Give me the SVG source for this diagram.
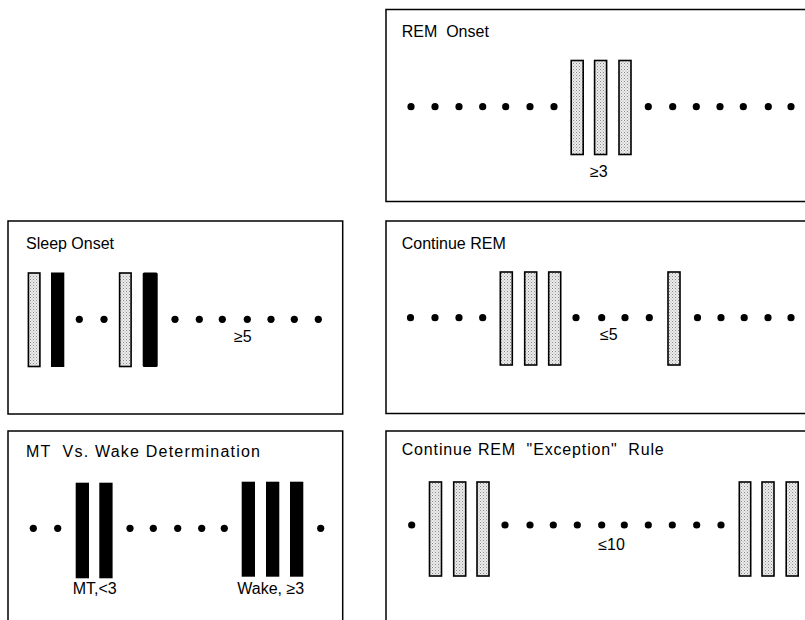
<svg xmlns="http://www.w3.org/2000/svg" width="805" height="620" viewBox="0 0 805 620">
<style>
.box{fill:none;stroke:#000;stroke-width:1.5}
.st{fill:url(#stip);stroke:#000;stroke-width:1.6}
.bk{fill:#000}
.dot{fill:#000}
text{font-family:"Liberation Sans",Arial,sans-serif;fill:#000}
.t{font-size:16px}
.lb{font-size:16px}
</style>
<defs>
<pattern id="stip" width="3" height="3" patternUnits="userSpaceOnUse">
<rect width="3" height="3" fill="#ececec"/>
<rect x="0" y="0" width="1" height="1" fill="#8a8a8a"/>
<rect x="1.5" y="1.5" width="1" height="1" fill="#a8a8a8"/>
</pattern>
</defs>
<rect width="805" height="620" fill="#fff"/>

<g id="rem-onset">
<rect class="box" x="386" y="9.5" width="440" height="192"/>
<text class="t" x="401.7" y="36.7" xml:space="preserve">REM  Onset</text>
<g class="dot">
<circle cx="411" cy="106.7" r="3.6"/><circle cx="435" cy="106.7" r="3.6"/><circle cx="459" cy="106.7" r="3.6"/><circle cx="482.7" cy="106.7" r="3.6"/><circle cx="505.7" cy="106.7" r="3.6"/><circle cx="530" cy="106.7" r="3.6"/><circle cx="554" cy="106.7" r="3.6"/>
<circle cx="648.3" cy="106.7" r="3.6"/><circle cx="672.7" cy="106.7" r="3.6"/><circle cx="696.3" cy="106.7" r="3.6"/><circle cx="720" cy="106.7" r="3.6"/><circle cx="743.3" cy="106.7" r="3.6"/><circle cx="768.3" cy="106.7" r="3.6"/><circle cx="791" cy="106.7" r="3.6"/>
</g>
<rect class="st" x="571.2" y="60.5" width="12" height="94"/>
<rect class="st" x="594.6" y="60.5" width="12" height="94"/>
<rect class="st" x="619" y="60.5" width="12" height="94"/>
<text class="lb" x="590" y="177">≥3</text>
</g>

<g id="sleep-onset">
<rect class="box" x="8" y="221" width="334.7" height="193"/>
<text class="t" x="26" y="249">Sleep Onset</text>
<rect class="st" x="28.4" y="273" width="11.5" height="93.5"/>
<rect class="bk" x="51" y="272.5" width="13.3" height="94.5"/>
<rect class="st" x="119.6" y="273" width="11.5" height="93.5"/>
<rect class="bk" x="142.7" y="272.5" width="15" height="94.5" rx="1.5"/>
<g class="dot">
<circle cx="79.3" cy="319.3" r="3.6"/><circle cx="104" cy="319.3" r="3.6"/>
<circle cx="175" cy="319.3" r="3.6"/><circle cx="199.3" cy="319.3" r="3.6"/><circle cx="222.3" cy="319.3" r="3.6"/><circle cx="247.3" cy="319.3" r="3.6"/><circle cx="271" cy="319.3" r="3.6"/><circle cx="294.3" cy="319.3" r="3.6"/><circle cx="318.3" cy="319.3" r="3.6"/>
</g>
<text class="lb" x="234" y="342">≥5</text>
</g>

<g id="continue-rem">
<rect class="box" x="386" y="221" width="440" height="192.5"/>
<text class="t" x="401.7" y="248.5">Continue REM</text>
<g class="dot">
<circle cx="410.5" cy="317.7" r="3.6"/><circle cx="435" cy="317.7" r="3.6"/><circle cx="459" cy="317.7" r="3.6"/><circle cx="482.7" cy="317.7" r="3.6"/>
<circle cx="576" cy="317.7" r="3.6"/><circle cx="601.7" cy="317.7" r="3.6"/><circle cx="625" cy="317.7" r="3.6"/><circle cx="649.3" cy="317.7" r="3.6"/>
<circle cx="697.5" cy="317.7" r="3.6"/><circle cx="721" cy="317.7" r="3.6"/><circle cx="744.2" cy="317.7" r="3.6"/><circle cx="768" cy="317.7" r="3.6"/><circle cx="791" cy="317.7" r="3.6"/>
</g>
<rect class="st" x="500.3" y="272" width="12" height="93"/>
<rect class="st" x="524.7" y="272" width="12" height="93"/>
<rect class="st" x="548.7" y="272" width="12" height="93"/>
<rect class="st" x="668" y="272" width="12" height="93"/>
<text class="lb" x="600" y="340">≤5</text>
</g>

<g id="mt-vs-wake">
<rect class="box" x="8" y="431" width="334.7" height="200"/>
<text class="t" x="26" y="456.7" xml:space="preserve" textLength="234" lengthAdjust="spacing">MT  Vs. Wake Determination</text>
<g class="dot">
<circle cx="33.3" cy="528.3" r="3.6"/><circle cx="57.7" cy="528.3" r="3.6"/>
<circle cx="130" cy="528.3" r="3.6"/><circle cx="153.3" cy="528.3" r="3.6"/><circle cx="177.7" cy="528.3" r="3.6"/><circle cx="201.7" cy="528.3" r="3.6"/><circle cx="224.3" cy="528.3" r="3.6"/>
<circle cx="320.7" cy="528.3" r="3.6"/>
</g>
<rect class="bk" x="75.7" y="482.7" width="13.3" height="95.6"/>
<rect class="bk" x="99.3" y="482.7" width="13.3" height="95.6"/>
<rect class="bk" x="241.7" y="481.7" width="13.3" height="95"/>
<rect class="bk" x="266" y="481.7" width="13.3" height="95"/>
<rect class="bk" x="290" y="481.7" width="13.3" height="95"/>
<text class="lb" x="72.7" y="594">MT,&lt;3</text>
<text class="lb" x="237.3" y="594">Wake, ≥3</text>
</g>

<g id="continue-rem-exception">
<rect class="box" x="386" y="431" width="440" height="200"/>
<text class="t" x="401.7" y="455" xml:space="preserve" textLength="262" lengthAdjust="spacing">Continue REM  "Exception"  Rule</text>
<g class="dot">
<circle cx="411.7" cy="525" r="3.6"/>
<circle cx="505" cy="525" r="3.6"/><circle cx="530" cy="525" r="3.6"/><circle cx="553.3" cy="525" r="3.6"/><circle cx="577.3" cy="525" r="3.6"/><circle cx="601.7" cy="525" r="3.6"/><circle cx="624.3" cy="525" r="3.6"/><circle cx="648.3" cy="525" r="3.6"/><circle cx="672.3" cy="525" r="3.6"/><circle cx="696.7" cy="525" r="3.6"/><circle cx="721" cy="525" r="3.6"/>
</g>
<rect class="st" x="429.5" y="482" width="12" height="94"/>
<rect class="st" x="453.7" y="482" width="12" height="94"/>
<rect class="st" x="477" y="482" width="12" height="94"/>
<rect class="st" x="739.3" y="482" width="11.4" height="94"/>
<rect class="st" x="762" y="482" width="12" height="94"/>
<rect class="st" x="786.2" y="482" width="12" height="94"/>
<text class="lb" x="598.3" y="550">≤10</text>
</g>
</svg>
